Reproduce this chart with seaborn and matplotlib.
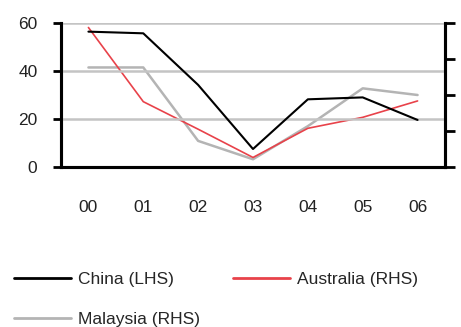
import numpy as np
import matplotlib
matplotlib.use('Agg')
import matplotlib.pyplot as plt
import seaborn as sns
from matplotlib.lines import Line2D

# data
years = ['00', '01', '02', '03', '04', '05', '06']
china = [56.4, 55.7, 34.2, 7.5, 28.2, 29.0, 19.6]          # LHS
australia = [7.75, 3.63, 2.1, 0.53, 2.15, 2.76, 3.67]      # RHS
malaysia = [5.53, 5.53, 1.45, 0.43, 2.27, 4.37, 4.0]       # RHS

sns.set_style('white')
plt.rcParams['font.family'] = ['Liberation Sans', 'DejaVu Sans']

fig = plt.figure(figsize=(4.61, 3.27), dpi=100)
ax = fig.add_axes([61 / 461, 1 - 167 / 327, (445 - 61) / 461, (167 - 23) / 327])
ax2 = ax.twinx()

x = np.arange(len(years))

sns.lineplot(x=x, y=china, ax=ax, color='black', linewidth=1.5, zorder=3)
sns.lineplot(x=x, y=malaysia, ax=ax2, color='#b4b4b4', linewidth=1.8, zorder=2)
sns.lineplot(x=x, y=australia, ax=ax2, color='#e8424a', linewidth=1.2, zorder=3)

ax.set_xlim(-0.5, 6.5)
ax.set_ylim(0, 60)
ax2.set_ylim(0, 8)

# gridlines
for yv in [20, 40, 60]:
    ax.axhline(yv, color='#c4c4c4', linewidth=1.8, zorder=0)

ax.set_yticks([0, 20, 40, 60])
ax.set_yticklabels(['0', '20', '40', '60'], fontsize=12.5, color='#222222')
ax.tick_params(axis='y', direction='out', length=6, width=2, pad=11, color='black')

ax.set_xticks(np.arange(-0.5, 7, 1))
ax.set_xticklabels([])
ax.tick_params(axis='x', which='major', direction='out', length=7, width=2, color='black')
ax.set_xticks(x, minor=True)
ax.set_xticklabels(years, minor=True, fontsize=12.5, color='#222222')
ax.tick_params(axis='x', which='minor', length=0, pad=24)

ax2.set_yticks([0, 2, 4, 6, 8])
ax2.set_yticklabels([])
ax2.tick_params(axis='y', direction='out', length=7, width=2, color='black')
ax2.set_ylabel('')
ax.set_ylabel('')

for a in (ax, ax2):
    a.spines['top'].set_visible(False)
    for s in ['left', 'right', 'bottom']:
        a.spines[s].set_linewidth(2.2)
        a.spines[s].set_color('black')
ax.set_zorder(ax2.get_zorder() + 1)
ax.patch.set_visible(False)
ax.grid(False)
ax2.grid(False)

handles = [
    Line2D([], [], color='black', linewidth=2),
    Line2D([], [], color='#b4b4b4', linewidth=2),
    Line2D([], [], color='#e8424a', linewidth=2),
]
labels = ['China (LHS)', 'Malaysia (RHS)', 'Australia (RHS)']
fig.legend(handles, labels, loc='upper left', bbox_to_anchor=(0.015, 0.19),
           ncol=2, frameon=False, fontsize=12.5, handlelength=3.3,
           handletextpad=0.4, columnspacing=1.9, labelspacing=1.45,
           borderaxespad=0)

fig.savefig('out.png', dpi=100)
